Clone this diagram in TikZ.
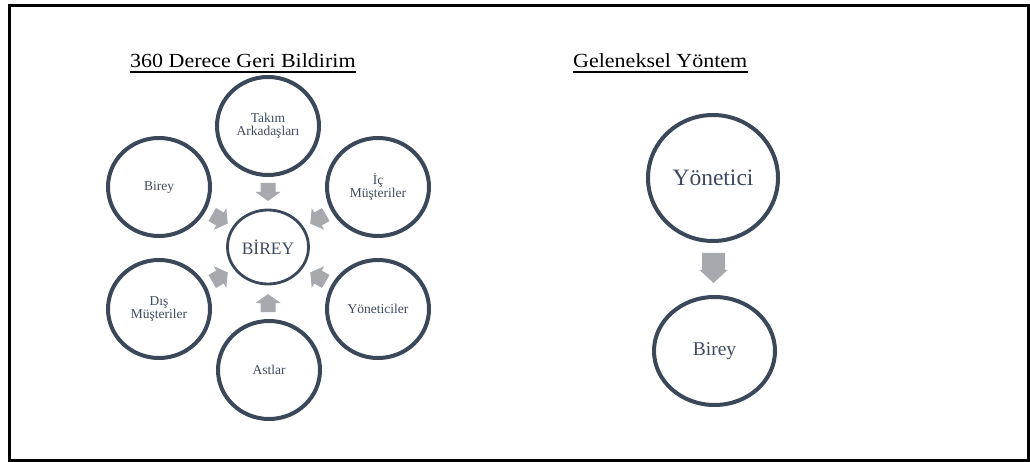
\documentclass[tikz,border=0pt]{standalone}
\usepackage{fontspec}
\setmainfont{Liberation Serif}
\newfontfamily\titlefont{Liberation Serif}[FakeStretch=1.1]
\usetikzlibrary{shapes.geometric,calc}
\definecolor{ringc}{RGB}{58,72,90}
\definecolor{txtc}{RGB}{62,74,96}
\definecolor{arrc}{RGB}{166,169,174}
\tikzset{
  ring/.style={ellipse, draw=ringc, line width=4pt, inner sep=0pt,
    minimum width=102pt, minimum height=98pt, text=txtc, align=center,
    font=\fontsize{13.5}{13}\selectfont},
  bigring/.style={ring, minimum width=130pt, minimum height=126pt},
  centerring/.style={ring, line width=2.8pt, minimum width=81pt, minimum height=74pt,
    font=\fontsize{17.5}{18}\selectfont},
  titletxt/.style={inner sep=0pt, anchor=base west, font=\titlefont\fontsize{20}{22}\selectfont},
  pics/garrow/.style={code={
    \fill[arrc] (-9,-7.5) -- (0,-7.5) -- (0,-12.5) -- (9,0) -- (0,12.5) -- (0,7.5) -- (-9,7.5) -- cycle;}},
  pics/bigarrow/.style={code={
    \fill[arrc] (-15,-11.5) -- (2,-11.5) -- (2,-14) -- (15,0) -- (2,14) -- (2,11.5) -- (-15,11.5) -- cycle;}}
}
\begin{document}
\begin{tikzpicture}[x=1pt,y=-1pt]
\useasboundingbox (0,0) rectangle (1030,462);
\draw[line width=2.5pt] (9.5,5.3) rectangle (1028.7,460.7);

% titles
\node[titletxt] (t1) at (130,68) {360 Derece Geri Bildirim};
\draw[line width=1.3pt] ([yshift=-4pt]t1.base west) -- ([yshift=-4pt]t1.base east);
\node[titletxt] (t2) at (573,68) {Geleneksel Yöntem};
\draw[line width=1.3pt] ([yshift=-4pt]t2.base west) -- ([yshift=-4pt]t2.base east);

% 360 degree diagram
\node[centerring] (c) at (268,247) {BİREY};
\node[ring] (tk) at (268,126) {Takım\\Arkadaşları};
\node[ring] (bl) at (159,187) {Birey};
\node[ring] (ic) at (378,187) {İç\\Müşteriler};
\node[ring] (dm) at (159,309) {Dış\\Müşteriler};
\node[ring] (yc) at (378,309) {Yöneticiler};
\node[ring] (as) at (269,370) {Astlar};

\pic[rotate=-90] at (268,192) {garrow};
\pic[rotate=90] at (268,303) {garrow};
\pic[rotate=-30] at (220,219) {garrow};
\pic[rotate=-150] at (318,219) {garrow};
\pic[rotate=30] at (220,277) {garrow};
\pic[rotate=150] at (318,277) {garrow};

% traditional
\node[bigring, font=\fontsize{23.5}{24}\selectfont] (yo) at (713,178) {Yönetici};
\node[ring, minimum width=121pt, minimum height=108pt, font=\fontsize{19.5}{20}\selectfont] (br) at (714.5,351) {Birey};
\pic[rotate=-90] at (713.5,268) {bigarrow};
\end{tikzpicture}
\end{document}
